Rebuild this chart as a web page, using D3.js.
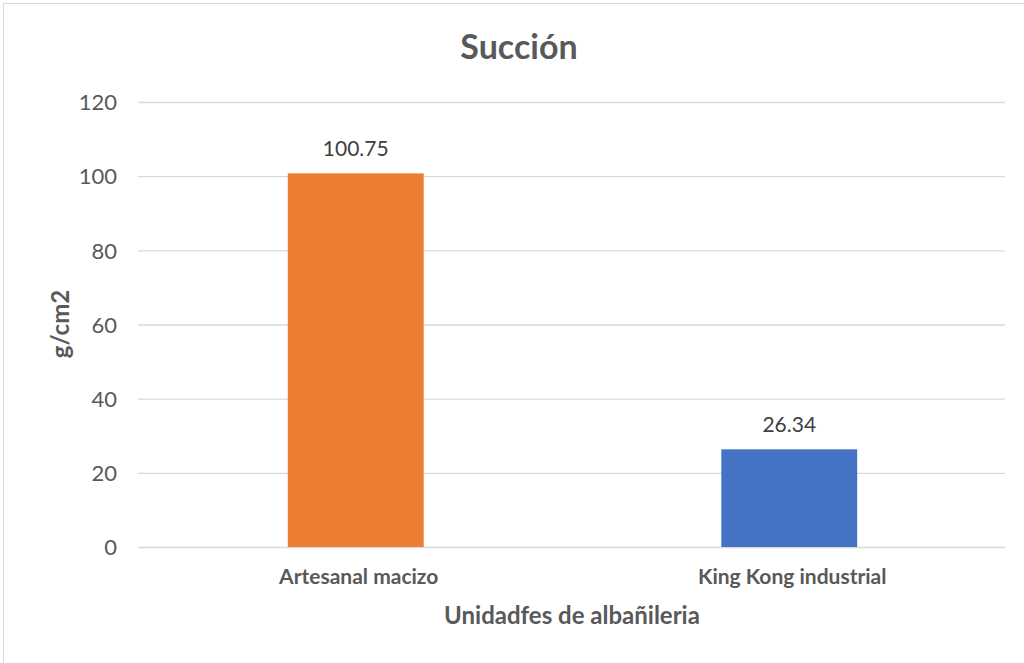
<!DOCTYPE html>
<html>
<head>
<meta charset="utf-8">
<script src="https://cdn.jsdelivr.net/npm/d3@7"></script>
<style>
  html, body { margin: 0; padding: 0; background: #fff; }
  svg { display: block; font-family: Lato, "Open Sans", sans-serif; }
</style>
</head>
<body>
<svg id="chart" width="1024" height="663"></svg>
<script>
const categories = ["Artesanal macizo", "King Kong industrial"];
const values = [100.75, 26.34];
const barColors = ["#ED7D31", "#4472C4"];
const yTicks = [0, 20, 40, 60, 80, 100, 120];
const titleText = "Succión";
const xTitle = "Unidadfes de albañileria";
const yTitle = "g/cm2";

const svg = d3.select("#chart");
const margin = { left: 138, right: 19, top: 102, bottom: 116 };
const W = 1024, H = 663;

// chart frame
svg.append("rect")
  .attr("x", 3.5).attr("y", 3.5)
  .attr("width", 1040).attr("height", 680)
  .attr("fill", "#fff").attr("stroke", "#d9d9d9").attr("stroke-width", 1);

const x = d3.scaleBand()
  .domain(categories)
  .range([margin.left, W - margin.right])
  .paddingInner(0).paddingOuter(0);

const y = d3.scaleLinear()
  .domain([0, 120])
  .range([H - margin.bottom, margin.top]);

// gridlines
svg.append("g")
  .attr("transform", `translate(${margin.left},0)`)
  .call(d3.axisLeft(y).tickValues(yTicks).tickSize(-(W - margin.right - margin.left)).tickFormat(""))
  .call(g => g.select(".domain").remove())
  .call(g => g.selectAll("line").attr("stroke", "#d9d9d9").attr("stroke-width", 1.3));

// y tick labels
svg.append("g")
  .attr("transform", `translate(${margin.left - 21},0)`)
  .call(d3.axisLeft(y).tickValues(yTicks).tickSize(0).tickPadding(0))
  .call(g => g.select(".domain").remove())
  .call(g => g.selectAll("text")
    .attr("fill", "#595959")
    .attr("dy", "0.35em")
    .style("font-size", "22px")
    .style("font-family", "Lato, 'Open Sans', sans-serif"));

// bars
const barW = x.bandwidth() / 3.19;
svg.append("g").selectAll("rect")
  .data(categories)
  .join("rect")
  .attr("x", (d) => x(d) + x.bandwidth() / 2 - barW / 2 + 1)
  .attr("y", (d, i) => y(values[i]))
  .attr("width", barW)
  .attr("height", (d, i) => y(0) - y(values[i]))
  .attr("fill", (d, i) => barColors[i]);

// value labels
svg.append("g").selectAll("text")
  .data(categories)
  .join("text")
  .attr("x", (d) => x(d) + x.bandwidth() / 2 + 1)
  .attr("y", (d, i) => y(values[i]) - 17)
  .attr("text-anchor", "middle")
  .attr("fill", "#404040")
  .style("font-size", "21px")
  .text((d, i) => values[i].toFixed(2));

// category labels
svg.append("g").selectAll("text")
  .data(categories)
  .join("text")
  .attr("x", (d) => x(d) + x.bandwidth() / 2 + 4)
  .attr("y", 584)
  .attr("text-anchor", "middle")
  .attr("fill", "#595959")
  .style("font-size", "21px")
  .style("font-weight", "bold")
  .text(d => d);

// title
svg.append("text")
  .attr("x", 519).attr("y", 59)
  .attr("text-anchor", "middle")
  .attr("fill", "#595959")
  .style("font-size", "34px")
  .style("font-weight", "bold")
  .text(titleText);

// axis titles
svg.append("text")
  .attr("x", 572).attr("y", 624)
  .attr("text-anchor", "middle")
  .attr("fill", "#595959")
  .style("font-size", "24px")
  .style("font-weight", "bold")
  .text(xTitle);

svg.append("text")
  .attr("transform", "translate(69,324) rotate(-90)")
  .attr("text-anchor", "middle")
  .attr("fill", "#595959")
  .style("font-size", "24px")
  .style("font-weight", "bold")
  .text(yTitle);
</script>
</body>
</html>
